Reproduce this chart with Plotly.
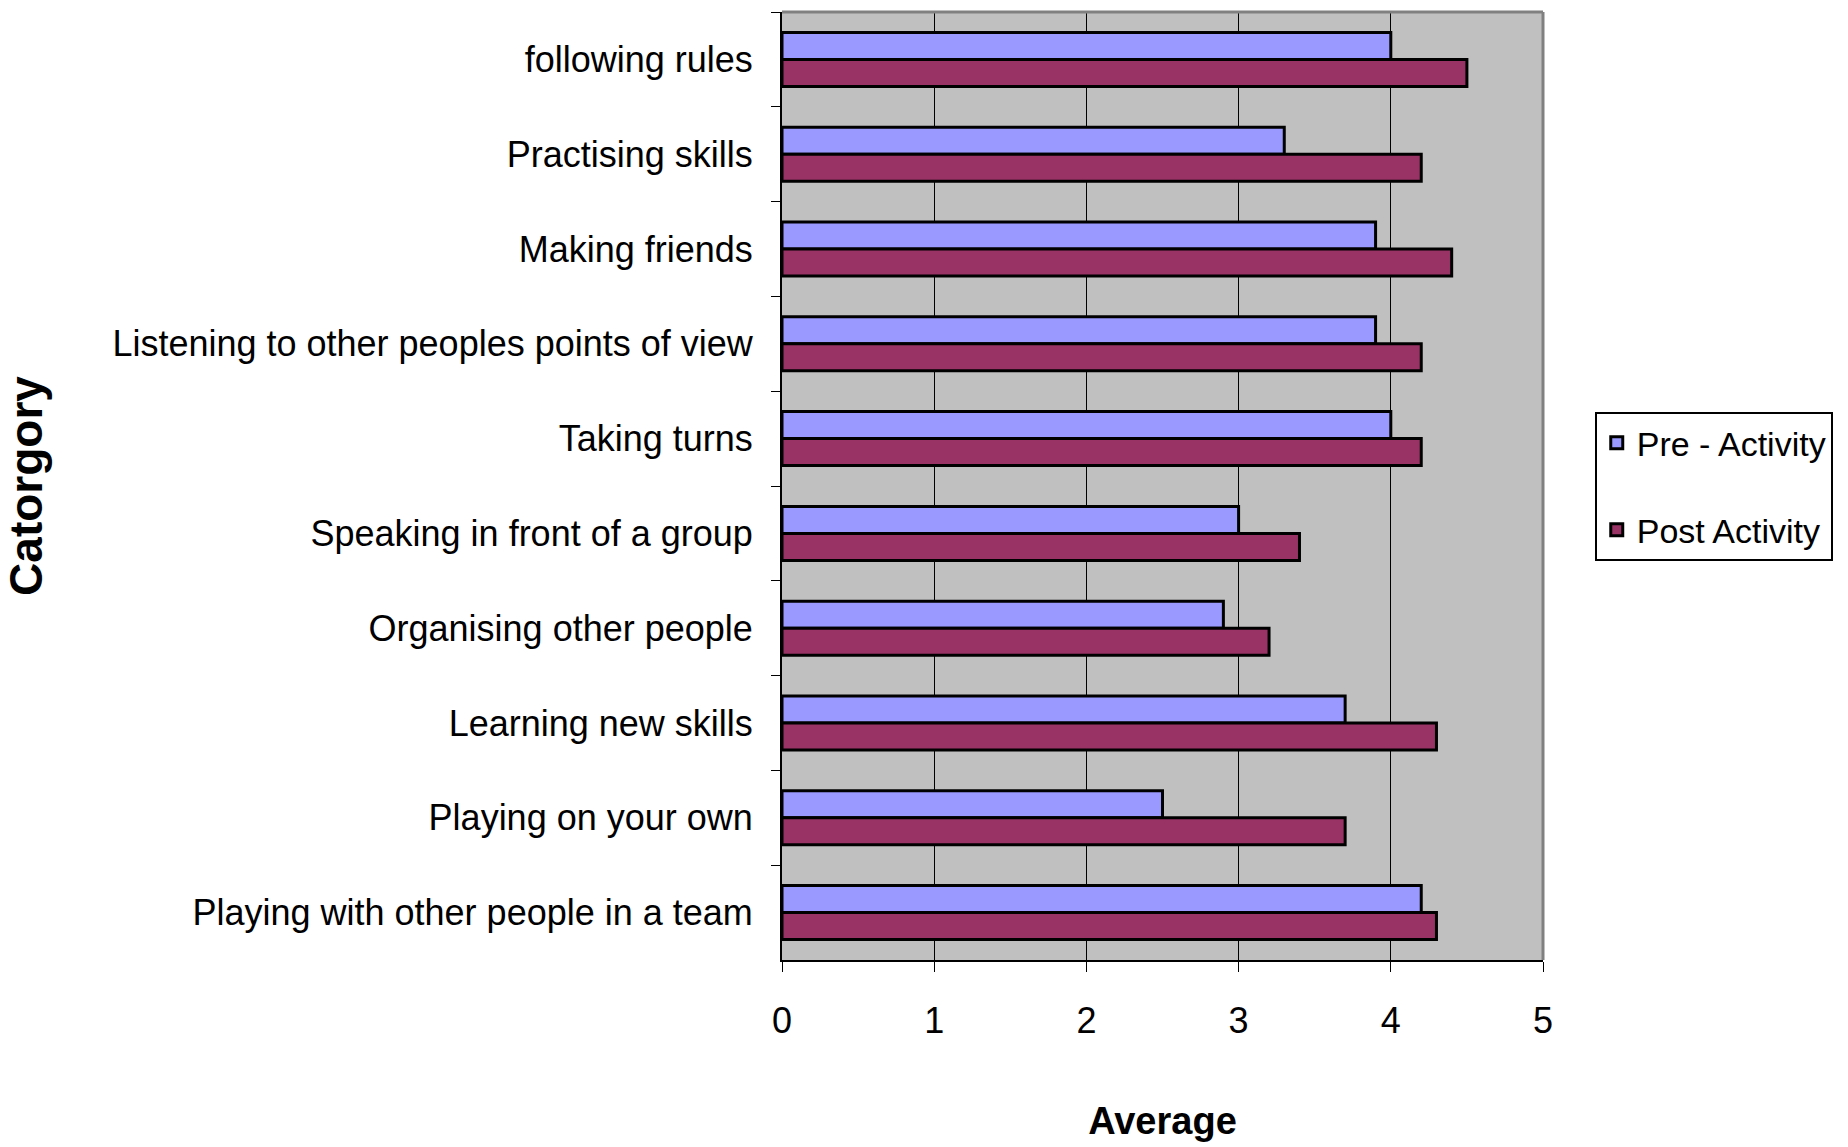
import plotly.graph_objects as go

# Survey categories, listed top to bottom
categories = [
    "following rules",
    "Practising skills",
    "Making friends",
    "Listening to other peoples points of view",
    "Taking turns",
    "Speaking in front of a group",
    "Organising other people",
    "Learning new skills",
    "Playing on your own",
    "Playing with other people in a team",
]

pre_activity = [4.0, 3.3, 3.9, 3.9, 4.0, 3.0, 2.9, 3.7, 2.5, 4.2]
post_activity = [4.5, 4.2, 4.4, 4.2, 4.2, 3.4, 3.2, 4.3, 3.7, 4.3]

x_ticks = [0, 1, 2, 3, 4, 5]

SANS = "Liberation Sans, Arial, sans-serif"

fig = go.Figure()
fig.add_trace(go.Bar(
    y=categories, x=pre_activity, orientation="h", name="Pre - Activity",
    marker=dict(color="#9999FF", line=dict(color="black", width=3)),
    legendgroup="pre",
))
fig.add_trace(go.Bar(
    y=categories, x=post_activity, orientation="h", name="Post Activity",
    marker=dict(color="#993366", line=dict(color="black", width=3)),
    legendgroup="post",
))

fig.update_layout(
    width=1848, height=1147,
    margin=dict(l=782, r=305, t=12, b=187, autoexpand=False),
    paper_bgcolor="white",
    plot_bgcolor="#C0C0C0",
    barmode="group",
    bargap=0.43,
    bargroupgap=0,
    font=dict(family=SANS, size=36, color="black"),
    legend=dict(
        x=1.068, xanchor="left", y=0.578, yanchor="top",
        bgcolor="white", bordercolor="black", borderwidth=2,
        font=dict(family=SANS, size=34, color="black"),
        tracegroupgap=40, traceorder="grouped",
    ),
    xaxis=dict(
        range=[0, 5], tickvals=x_ticks, ticktext=[str(v) for v in x_ticks],
        ticks="outside", ticklen=10, tickcolor="black", tickwidth=1,
        ticklabelstandoff=18,
        showgrid=True, gridcolor="black", gridwidth=1,
        showline=True, linecolor="black", linewidth=2,
        zeroline=False,
        tickfont=dict(family=SANS, size=36),
        title=dict(text="<b>Average</b>", standoff=67,
                   font=dict(family=SANS, size=38)),
        automargin=False,
    ),
    yaxis=dict(
        autorange="reversed",
        tickson="boundaries", ticks="outside", ticklen=9,
        tickcolor="black", tickwidth=1,
        ticklabelstandoff=20,
        showline=True, linecolor="black", linewidth=2,
        showgrid=False,
        tickfont=dict(family=SANS, size=36),
        title=dict(text="<b>Catorgory</b>", standoff=60,
                   font=dict(family=SANS, size=46)),
        automargin=False,
    ),
)

# Grey frame on the top and right edges of the plotting area
fig.add_shape(type="line", xref="x domain", yref="y domain",
              x0=0, x1=1, y0=1, y1=1, line=dict(color="#808080", width=3))
fig.add_shape(type="line", xref="x domain", yref="y domain",
              x0=1, x1=1, y0=0, y1=1, line=dict(color="#808080", width=3))

fig.write_html("out.html")
